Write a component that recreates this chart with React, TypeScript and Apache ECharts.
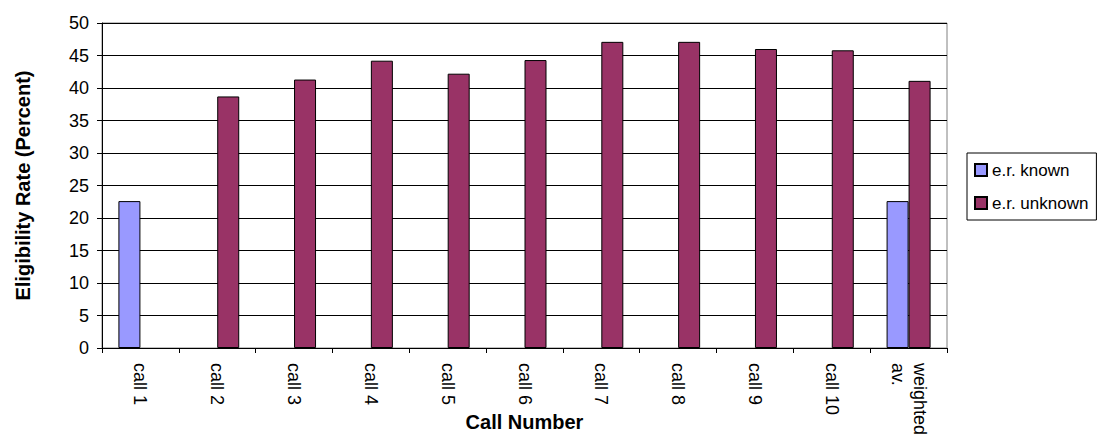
import React, { useEffect, useRef } from "react";
import * as echarts from "echarts";

const categories = ["call 1", "call 2", "call 3", "call 4", "call 5", "call 6", "call 7", "call 8", "call 9", "call 10", "weighted\nav."];
const knownValues: (number | null)[] = [22.6, null, null, null, null, null, null, null, null, null, 22.6];
const unknownValues: (number | null)[] = [null, 38.7, 41.3, 44.2, 42.2, 44.3, 47.1, 47.1, 46.0, 45.8, 41.1];
const seriesNames = ["e.r. known", "e.r. unknown"];
const yTicks = { min: 0, max: 50, interval: 5 };

const FONT = "'Liberation Sans', Arial, sans-serif";

export default function App() {
  const ref = useRef<HTMLDivElement>(null);
  useEffect(() => {
    if (!ref.current) return;
    const chart = echarts.init(ref.current, undefined, { renderer: "svg" });
    chart.setOption({
      animation: false,
      backgroundColor: "#ffffff",
      textStyle: { fontFamily: FONT, color: "#000" },
      grid: {
        left: 102,
        top: 23,
        width: 845,
        height: 325,
        containLabel: false,
        outerBoundsMode: "none",
        show: true,
        borderColor: "#808080",
        borderWidth: 1,
        backgroundColor: "transparent",
      },
      legend: {
        orient: "vertical",
        left: 967,
        top: 153,
        padding: [7, 8, 7, 7],
        itemGap: 13,
        itemWidth: 12,
        itemHeight: 12,
        borderColor: "#000",
        borderWidth: 1,
        icon: "rect",
        textStyle: { fontFamily: FONT, fontSize: 17, color: "#000", lineHeight: 20 },
        data: seriesNames,
      },
      xAxis: {
        type: "category",
        data: categories,
        name: "Call Number",
        nameLocation: "middle",
        nameGap: 64,
        nameMoveOverlap: false,
        nameTextStyle: { fontFamily: FONT, fontSize: 20, fontWeight: "bold", color: "#000", lineHeight: 20 },
        axisLine: { lineStyle: { color: "#000", width: 1 } },
        axisTick: { show: true, length: 5, alignWithLabel: false, lineStyle: { color: "#000" } },
        axisLabel: {
          rotate: -90,
          margin: 15,
          fontFamily: FONT,
          fontSize: 18,
          color: "#000",
          interval: 0,
          lineHeight: 22,
        },
        splitLine: { show: false },
      },
      yAxis: {
        type: "value",
        min: yTicks.min,
        max: yTicks.max,
        interval: yTicks.interval,
        name: "Eligibility Rate (Percent)",
        nameLocation: "middle",
        nameGap: 69,
        nameRotate: 90,
        nameMoveOverlap: false,
        nameTextStyle: { fontFamily: FONT, fontSize: 20, fontWeight: "bold", color: "#000" },
        axisLine: { show: true, lineStyle: { color: "#000", width: 1 } },
        axisTick: { show: true, length: 5, lineStyle: { color: "#000" } },
        axisLabel: { fontFamily: FONT, fontSize: 18, color: "#000", margin: 13 },
        splitLine: { show: true, lineStyle: { color: "#000", width: 1 } },
      },
      series: [
        {
          name: seriesNames[0],
          type: "bar",
          data: knownValues,
          barWidth: 22,
          barGap: "0%",
          itemStyle: { color: "#9999FF", borderColor: "#000", borderWidth: 1 },
        },
        {
          name: seriesNames[1],
          type: "bar",
          data: unknownValues,
          barWidth: 22,
          barGap: "0%",
          itemStyle: { color: "#993366", borderColor: "#000", borderWidth: 1 },
        },
      ],
    });
    return () => chart.dispose();
  }, []);
  return (
    <div
      ref={ref}
      style={{ position: "absolute", left: 0, top: 0, width: 1112, height: 436 }}
    />
  );
}
